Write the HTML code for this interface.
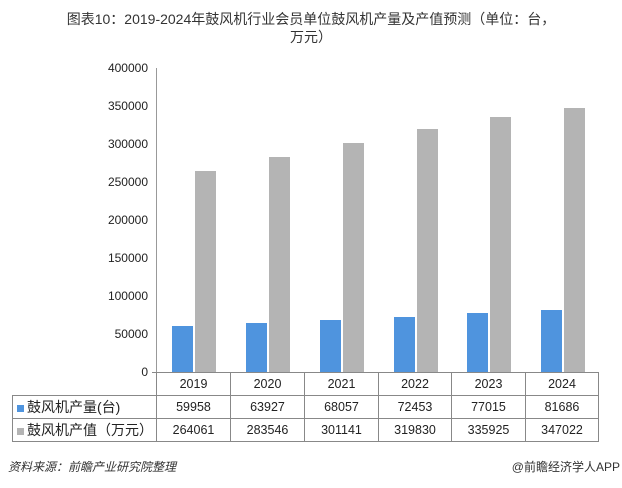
<!DOCTYPE html>
<html><head><meta charset="utf-8"><style>
body{margin:0;width:622px;height:488px;background:#fff;font-family:"Liberation Sans","Noto Sans CJK SC",sans-serif;color:#222;position:relative;overflow:hidden}
.t{position:absolute;white-space:nowrap}
.yl{position:absolute;right:474px;font-size:12px;text-align:right}
.bar{position:absolute}
td{border:1px solid #888;text-align:center;font-size:12.5px;padding:0;height:22px;line-height:22px}
</style></head><body>
<div class="t" style="left:0;width:622px;top:10px;text-align:center;font-size:14px;color:#333;line-height:18px">图表10：2019-2024年鼓风机行业会员单位鼓风机产量及产值预测（单位：台，<br>万元）</div>
<div class="yl" style="top:61px">400000</div>
<div class="yl" style="top:99px">350000</div>
<div class="yl" style="top:137px">300000</div>
<div class="yl" style="top:175px">250000</div>
<div class="yl" style="top:213px">200000</div>
<div class="yl" style="top:251px">150000</div>
<div class="yl" style="top:289px">100000</div>
<div class="yl" style="top:327px">50000</div>
<div class="yl" style="top:365px">0</div>
<div style="position:absolute;left:156px;top:68px;width:1px;height:304px;background:#999"></div>
<div style="position:absolute;left:152px;top:372px;width:446px;height:1px;background:#888"></div>
<div class="bar" style="left:172px;top:326px;width:21px;height:46px;background:#4f94de"></div>
<div class="bar" style="left:195px;top:171px;width:21px;height:201px;background:#b4b4b4"></div>
<div class="bar" style="left:246px;top:323px;width:21px;height:49px;background:#4f94de"></div>
<div class="bar" style="left:269px;top:157px;width:21px;height:215px;background:#b4b4b4"></div>
<div class="bar" style="left:320px;top:320px;width:21px;height:52px;background:#4f94de"></div>
<div class="bar" style="left:343px;top:143px;width:21px;height:229px;background:#b4b4b4"></div>
<div class="bar" style="left:394px;top:317px;width:21px;height:55px;background:#4f94de"></div>
<div class="bar" style="left:417px;top:129px;width:21px;height:243px;background:#b4b4b4"></div>
<div class="bar" style="left:467px;top:313px;width:21px;height:59px;background:#4f94de"></div>
<div class="bar" style="left:490px;top:117px;width:21px;height:255px;background:#b4b4b4"></div>
<div class="bar" style="left:541px;top:310px;width:21px;height:62px;background:#4f94de"></div>
<div class="bar" style="left:564px;top:108px;width:21px;height:264px;background:#b4b4b4"></div>
<table style="position:absolute;left:12px;top:372px;border-collapse:collapse;table-layout:fixed;width:586px">
<colgroup><col style="width:144px"><col style="width:74px"><col style="width:74px"><col style="width:74px"><col style="width:73px"><col style="width:74px"><col style="width:73px"></colgroup>
<tr><td style="border:none;border-right:1px solid #888;height:20px;line-height:20px"></td><td style="height:20px;line-height:20px">2019</td><td>2020</td><td>2021</td><td>2022</td><td>2023</td><td>2024</td></tr>
<tr><td style="text-align:left;font-size:14px"><span style="display:inline-block;width:7px;height:7px;background:#4f94de;margin:0 3px 0 4px"></span>鼓风机产量(台)</td><td>59958</td><td>63927</td><td>68057</td><td>72453</td><td>77015</td><td>81686</td></tr>
<tr><td style="text-align:left;font-size:14px"><span style="display:inline-block;width:7px;height:7px;background:#b4b4b4;margin:0 3px 0 4px"></span>鼓风机产值（万元）</td><td>264061</td><td>283546</td><td>301141</td><td>319830</td><td>335925</td><td>347022</td></tr>
</table>
<div class="t" style="left:8px;top:458px;font-size:12px;font-style:italic;color:#333">资料来源：前瞻产业研究院整理</div>
<div class="t" style="right:2px;top:458px;font-size:12px;color:#333">@前瞻经济学人APP</div>
</body></html>
